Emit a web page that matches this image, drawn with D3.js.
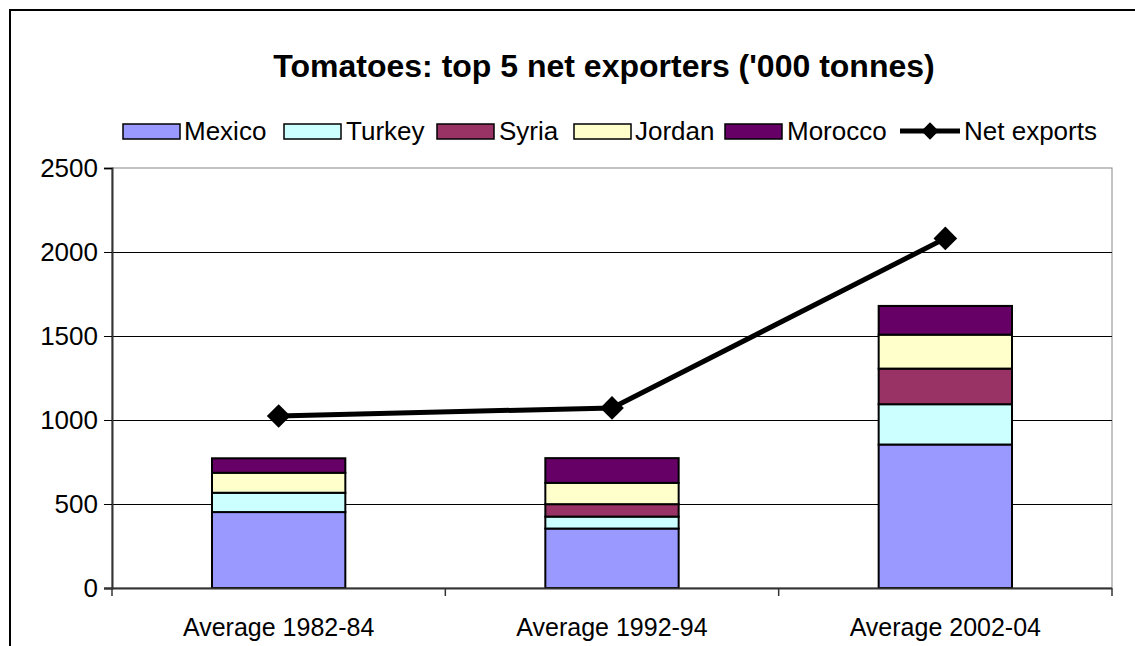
<!DOCTYPE html>
<html>
<head>
<meta charset="utf-8">
<script src="https://cdn.jsdelivr.net/npm/d3@7"></script>
<style>
  html, body { margin: 0; padding: 0; background: #fff; }
  svg { display: block; font-family: "Liberation Sans", Arial, sans-serif; }
</style>
</head>
<body>
<svg id="chart" width="1135" height="646"></svg>
<script>
// Tomato net exports, '000 tonnes
const categories = ["Average 1982-84", "Average 1992-94", "Average 2002-04"];
const countries = ["Mexico", "Turkey", "Syria", "Jordan", "Morocco"];
const mexico  = [452, 354, 854];
const turkey  = [115, 71, 240];
const syria   = [0, 74, 212];
const jordan  = [119, 127, 202];
const morocco = [86, 147, 171];
const netExports = [1024, 1072, 2081];
const yTicks = [0, 500, 1000, 1500, 2000, 2500];
const colors = ["#9999FF", "#CCFFFF", "#993366", "#FFFFCC", "#660066"];

const seriesValues = [mexico, turkey, syria, jordan, morocco];
const rows = categories.map((c, i) => {
  const r = { category: c };
  countries.forEach((k, j) => { r[k] = seriesValues[j][i]; });
  return r;
});

const svg = d3.select("#chart");
const plot = { left: 112, right: 1112, top: 168, bottom: 588 };

// outer chart frame
svg.append("rect")
  .attr("x", 10).attr("y", 10).attr("width", 1140).attr("height", 650)
  .attr("fill", "#fff").attr("stroke", "#000").attr("stroke-width", 2);

const x = d3.scaleBand().domain(categories).range([plot.left, plot.right]).paddingInner(0.6).paddingOuter(0.3);
const xCenter = d3.scaleBand().domain(categories).range([plot.left, plot.right]);
const y = d3.scaleLinear().domain([0, 2500]).range([plot.bottom, plot.top]);

// plot area with gray border
svg.append("rect")
  .attr("x", plot.left).attr("y", plot.top)
  .attr("width", plot.right - plot.left).attr("height", plot.bottom - plot.top)
  .attr("fill", "#fff").attr("stroke", "#888").attr("stroke-width", 1);

// gridlines
svg.append("g").selectAll("line")
  .data(yTicks.filter(t => t > 0 && t < 2500))
  .join("line")
  .attr("x1", plot.left).attr("x2", plot.right)
  .attr("y1", d => Math.round(y(d)) + 0.5).attr("y2", d => Math.round(y(d)) + 0.5)
  .attr("stroke", "#000").attr("stroke-width", 1);

// stacked bars
const stack = d3.stack().keys(countries)(rows);
const barG = svg.append("g");
stack.forEach((layer, j) => {
  barG.selectAll(null)
    .data(layer)
    .join("rect")
    .attr("x", d => x(d.data.category))
    .attr("width", x.bandwidth())
    .attr("y", d => y(d[1]))
    .attr("height", d => Math.max(0, y(d[0]) - y(d[1])))
    .attr("fill", colors[j])
    .attr("stroke", "#000")
    .attr("stroke-width", 2)
    .attr("display", d => d[1] - d[0] > 0 ? null : "none");
});

// y axis
const yAxis = d3.axisLeft(y).tickValues(yTicks).tickSize(8).tickPadding(6).tickFormat(d3.format("d"));
const yg = svg.append("g").attr("transform", `translate(${plot.left},0)`).call(yAxis);
yg.select(".domain").attr("stroke", "#333").attr("stroke-width", 2);
yg.selectAll(".tick line").attr("stroke", "#000");
yg.selectAll("text").attr("font-size", 26).attr("fill", "#000").attr("font-family", "Liberation Sans, Arial, sans-serif");

// x axis: ticks at category boundaries
const xg = svg.append("g").attr("transform", `translate(0,${plot.bottom})`);
xg.append("line").attr("x1", plot.left - 8).attr("x2", plot.right)
  .attr("y1", 0.5).attr("y2", 0.5).attr("stroke", "#333").attr("stroke-width", 2);
const bounds = categories.map(c => xCenter(c)).concat([plot.right]);
xg.selectAll("line.tk").data(bounds).join("line").attr("class", "tk")
  .attr("x1", d => d).attr("x2", d => d).attr("y1", 0).attr("y2", 8)
  .attr("stroke", "#333").attr("stroke-width", 1.5);
xg.selectAll("text").data(categories).join("text")
  .attr("x", d => xCenter(d) + xCenter.bandwidth() / 2)
  .attr("y", 48)
  .attr("text-anchor", "middle")
  .attr("font-size", 25)
  .text(d => d);

// net exports line
const lineGen = d3.line()
  .x((d, i) => xCenter(categories[i]) + xCenter.bandwidth() / 2)
  .y(d => y(d));
svg.append("path").datum(netExports)
  .attr("d", lineGen).attr("fill", "none").attr("stroke", "#000").attr("stroke-width", 5);
svg.append("g").selectAll("path").data(netExports).join("path")
  .attr("transform", (d, i) => `translate(${xCenter(categories[i]) + xCenter.bandwidth() / 2},${y(d)}) rotate(45)`)
  .attr("d", d3.symbol().type(d3.symbolSquare).size(280))
  .attr("fill", "#000");

// title
svg.append("text")
  .attr("x", 604).attr("y", 77)
  .attr("text-anchor", "middle")
  .attr("font-size", 32).attr("font-weight", "bold")
  .text("Tomatoes: top 5 net exporters ('000 tonnes)");

// legend
const legendItems = [
  { name: "Mexico", sx: 123, tx: 184 },
  { name: "Turkey", sx: 284, tx: 346 },
  { name: "Syria", sx: 437, tx: 499 },
  { name: "Jordan", sx: 574, tx: 635 },
  { name: "Morocco", sx: 725, tx: 787 }
];
const lg = svg.append("g");
legendItems.forEach((it, j) => {
  lg.append("rect").attr("x", it.sx).attr("y", 124).attr("width", 57).attr("height", 15)
    .attr("fill", colors[j]).attr("stroke", "#000").attr("stroke-width", 1.5);
  lg.append("text").attr("x", it.tx).attr("y", 140).attr("font-size", 26).text(it.name);
});
lg.append("line").attr("x1", 900).attr("x2", 960).attr("y1", 131).attr("y2", 131)
  .attr("stroke", "#000").attr("stroke-width", 5);
lg.append("path").attr("transform", "translate(930,131) rotate(45)")
  .attr("d", d3.symbol().type(d3.symbolSquare).size(150)).attr("fill", "#000");
lg.append("text").attr("x", 964).attr("y", 140).attr("font-size", 26).text("Net exports");
</script>
</body>
</html>
